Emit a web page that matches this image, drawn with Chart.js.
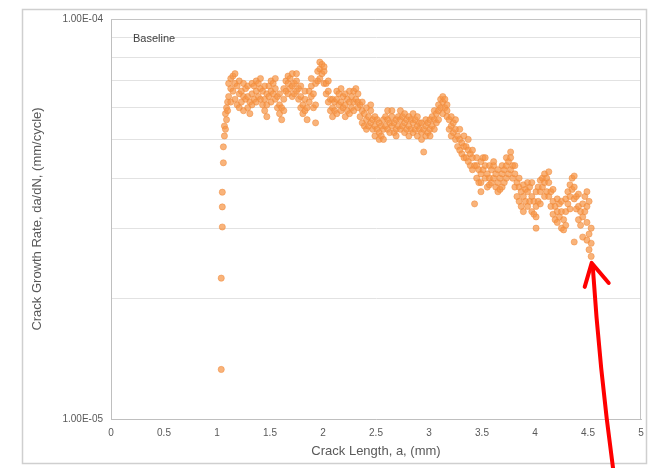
<!DOCTYPE html>
<html>
<head>
<meta charset="utf-8">
<script src="https://cdn.jsdelivr.net/npm/chart.js@4.4.1/dist/chart.umd.min.js"></script>
<style>
    html, body { margin: 0; padding: 0; background: #ffffff; }
    #wrap { width: 652px; height: 468px; }
</style>
</head>
<body>
<div id="wrap"><canvas id="crackChart" width="652" height="468"></canvas></div>
<script>
// crack length a (mm) of each column of readings
const crackLength = [
    1.04, 1.05, 1.06, 1.07, 1.08, 1.09, 1.10,
    1.11, 1.13, 1.15, 1.17, 1.19, 1.21, 1.23, 1.25, 1.27, 1.29,
    1.31, 1.33, 1.35, 1.37, 1.39, 1.41, 1.43, 1.45, 1.47, 1.49,
    1.51, 1.53, 1.55, 1.57, 1.59, 1.61, 1.63, 1.65, 1.67, 1.69,
    1.71, 1.73, 1.75, 1.77, 1.79, 1.81, 1.83, 1.85, 1.87, 1.89,
    1.91, 1.93, 1.95, 1.97, 1.99, 2.01, 2.03, 2.05, 2.07, 2.09,
    2.11, 2.13, 2.15, 2.17, 2.19, 2.21, 2.23, 2.25, 2.27, 2.29,
    2.31, 2.33, 2.35, 2.37, 2.39, 2.41, 2.43, 2.45, 2.47, 2.49,
    2.51, 2.53, 2.55, 2.57, 2.59, 2.61, 2.63, 2.65, 2.67, 2.69,
    2.71, 2.73, 2.75, 2.77, 2.79, 2.81, 2.83, 2.85, 2.87, 2.89,
    2.91, 2.93, 2.95, 2.97, 2.99, 3.01, 3.03, 3.05, 3.07, 3.09,
    3.11, 3.13, 3.15, 3.17, 3.19, 3.21, 3.23, 3.25, 3.27, 3.29,
    3.31, 3.33, 3.35, 3.37, 3.39, 3.41, 3.43, 3.45, 3.47, 3.49,
    3.51, 3.53, 3.55, 3.57, 3.59, 3.61, 3.63, 3.65, 3.67, 3.69,
    3.71, 3.73, 3.75, 3.77, 3.79, 3.81, 3.83, 3.85, 3.87, 3.89,
    3.91, 3.93, 3.95, 3.97, 3.99, 4.01, 4.03, 4.05, 4.07, 4.09,
    4.11, 4.13, 4.15, 4.17, 4.19, 4.21, 4.23, 4.25, 4.27, 4.29,
    4.31, 4.33, 4.35, 4.37, 4.39, 4.41, 4.43, 4.45, 4.47, 4.49,
    4.51, 4.53
];

// da/dN readings at each crack length, in units of 1e-5 mm/cycle
const growthRate = [
    [1.33, 2.25], [3.02, 3.39, 3.69], [4.37, 4.79], [5.1, 5.4], [5.3, 5.8], [5.6, 6.0], [6.2, 5.9],
    [6.4, 6.9], [6.7, 7.1, 6.2], [7.2, 6.6], [7.3, 6.9, 6.3], [6.8, 6.1], [6.5, 7.0, 6.0], [6.6, 6.2], [6.9, 6.4, 5.9], [6.7, 6.3], [6.4, 6.0, 6.8],
    [6.2, 5.8], [6.5, 6.9, 6.1], [6.8, 6.3], [7.0, 6.6, 6.2], [6.9, 6.4], [6.7, 7.1, 6.3], [6.6, 6.1], [6.3, 6.8, 5.9], [6.1, 5.7, 6.5], [6.4, 6.8],
    [6.6, 6.2, 7.0], [6.9, 6.5], [6.7, 6.3, 7.1], [6.4, 6.0], [6.1, 5.8, 6.5], [5.6, 6.0], [6.3, 6.7, 5.9], [6.6, 7.0], [6.9, 7.2, 6.5], [7.1, 6.7],
    [7.3, 6.8, 6.4], [6.9, 6.5], [7.0, 6.6, 7.3], [6.7, 6.3], [6.4, 6.0, 6.8], [6.1, 5.8], [6.3, 5.9, 6.6], [6.0, 5.6], [6.2, 6.6], [6.8, 6.4, 7.1],
    [6.5, 6.0], [5.5, 6.1, 6.9], [7.4, 7.0], [7.8, 7.5, 7.1], [7.7, 7.3], [7.4, 6.9, 7.6], [6.9, 6.5], [6.6, 6.2, 7.0], [6.3, 5.9], [6.0, 5.7, 6.3],
    [5.9, 6.2], [6.3, 5.8, 6.6], [6.5, 6.1], [6.7, 6.2, 5.9], [6.4, 6.0], [6.1, 5.7, 6.5], [5.9, 6.3], [6.2, 5.8, 6.6], [6.4, 6.0], [6.6, 6.2, 5.9],
    [6.7, 6.3], [6.5, 6.0, 6.2], [6.1, 5.7], [5.9, 5.5, 6.2], [5.8, 5.4], [5.6, 6.0, 5.3], [5.7, 5.4], [5.9, 5.5, 6.1], [5.6, 5.3], [5.4, 5.1, 5.7],
    [5.3, 5.6], [5.2, 5.5, 5.0], [5.1, 5.4], [5.0, 5.3, 5.6], [5.4, 5.7], [5.6, 5.3, 5.9], [5.5, 5.2], [5.7, 5.4, 5.9], [5.5, 5.2], [5.3, 5.6, 5.1],
    [5.4, 5.7], [5.6, 5.3, 5.9], [5.7, 5.4], [5.5, 5.2, 5.8], [5.3, 5.6], [5.4, 5.1, 5.7], [5.6, 5.3], [5.8, 5.5, 5.2], [5.6, 5.3], [5.4, 5.1, 5.7],
    [5.3, 5.5], [5.2, 5.5, 5.0], [4.65, 5.3], [5.4, 5.1, 5.6], [5.5, 5.2], [5.3, 5.6, 5.1], [5.4, 5.7], [5.6, 5.3, 5.9], [5.8, 5.5], [5.9, 6.1, 5.6],
    [6.0, 6.3], [6.2, 5.8, 6.4], [6.3, 6.0], [6.1, 5.7, 5.9], [5.6, 5.3], [5.4, 5.1, 5.7], [5.2, 5.5], [5.3, 5.0, 5.6], [5.1, 4.8], [5.0, 4.7, 5.3],
    [4.9, 4.6], [4.8, 4.5, 5.1], [4.8, 4.5], [4.7, 4.4, 5.0], [4.6, 4.3], [4.5, 4.2, 4.7], [4.3, 3.45], [4.3, 4.0, 4.5], [4.2, 3.9], [4.1, 4.4, 3.9, 3.7],
    [4.2, 4.5], [4.3, 4.0, 4.5], [4.1, 3.8], [4.0, 4.3, 3.85], [4.2, 3.9], [4.3, 4.0, 4.4], [4.1, 3.8], [3.9, 4.2, 3.7], [4.0, 3.75], [4.1, 3.8, 4.3],
    [4.2, 3.9], [4.3, 4.0, 4.5], [4.4, 4.1], [4.5, 4.2, 4.65], [4.3, 4.0], [4.1, 3.8, 4.3], [3.9, 3.6], [3.8, 3.5, 4.0], [3.7, 3.4], [3.6, 3.3, 3.85],
    [3.5, 3.75], [3.7, 3.4, 3.9], [3.8, 3.5], [3.6, 3.3, 3.9], [3.5, 3.25], [3.4, 3.7, 3.2, 3.0], [3.5, 3.8], [3.7, 3.45, 3.95], [3.8, 4.0], [3.9, 3.6, 4.1],
    [4.0, 3.7], [3.9, 4.15, 3.6], [3.7, 3.4], [3.5, 3.25, 3.75], [3.4, 3.15], [3.3, 3.55, 3.1], [3.2, 3.45], [3.3, 3.0, 3.5], [3.15, 2.97], [3.3, 3.05, 3.55],
    [3.45, 3.7], [3.6, 3.35, 3.85], [3.75, 4.0], [3.8, 3.55, 4.05, 2.77], [3.6, 3.35], [3.4, 3.15, 3.65], [3.3, 3.05], [3.45, 3.2, 2.85], [3.3, 3.6], [3.1, 2.8, 3.4, 3.7],
    [2.9, 2.65, 3.5], [2.55, 2.75, 3.0]
];

const seriesLabel = 'Baseline';
const xTitle = 'Crack Length, a, (mm)';
const yTitle = 'Crack Growth Rate, da/dN, (mm/cycle)';
const xRange = [0, 5];
const xStep = 0.5;
const yRange = [1e-5, 1e-4];
// log-scale grid lines, one per 1e-5 step of the decade
const yGridValues = [1e-5, 2e-5, 3e-5, 4e-5, 5e-5, 6e-5, 7e-5, 8e-5, 9e-5, 1e-4];
// last reading the red arrow points at
const arrowTarget = { x: 4.535, y: 2.47e-5 };

const textColor = '#595959';
const fontFamily = '"Liberation Sans", Arial, sans-serif';

function sciLabel(value) {
    const exp = Math.log10(value);
    if (Math.abs(exp - Math.round(exp)) > 1e-9) return '';
    return value.toExponential(2).toUpperCase().replace(/E([+-])(\d)$/, (m, sign, d) => 'E' + sign + '0' + d);
}

// outer frame, plot border and the text box
const framePlugin = {
    id: 'frame',
    beforeDraw(chart) {
        const c = chart.ctx;
        c.save();
        c.fillStyle = '#ffffff';
        c.fillRect(0, 0, chart.width, chart.height);
        c.strokeStyle = '#cfcfcf';
        c.lineWidth = 1.5;
        c.strokeRect(22.5, 9.5, 624, 454);
        c.restore();
    },
    beforeDatasetsDraw(chart) {
        const a = chart.chartArea;
        const c = chart.ctx;
        c.save();
        c.strokeStyle = '#c4c4c4';
        c.lineWidth = 1;
        c.beginPath();
        c.moveTo(a.left, a.top + 0.5);
        c.lineTo(a.right - 0.5, a.top + 0.5);
        c.lineTo(a.right - 0.5, a.bottom);
        c.stroke();
        c.fillStyle = '#404040';
        c.font = '11px ' + fontFamily;
        c.textBaseline = 'middle';
        c.fillText(seriesLabel, a.left + 22, a.top + 20);
        c.restore();
    }
};

// red call-out arrow pointing at the final reading
const arrowPlugin = {
    id: 'arrow',
    afterDraw(chart) {
        const tx = chart.scales.x.getPixelForValue(arrowTarget.x);
        const ty = chart.scales.y.getPixelForValue(arrowTarget.y);
        const c = chart.ctx;
        c.save();
        c.strokeStyle = '#ff0000';
        c.lineWidth = 4;
        c.lineCap = 'round';
        c.lineJoin = 'round';
        c.beginPath();
        c.moveTo(tx + 1, ty + 4);
        c.quadraticCurveTo(tx + 8, ty + 110, tx + 22, chart.height + 5);
        c.stroke();
        c.beginPath();
        c.moveTo(tx - 7, ty + 25);
        c.lineTo(tx, ty + 1);
        c.lineTo(tx + 17, ty + 21);
        c.stroke();
        c.restore();
    }
};

function renderCrackChart(canvasId) {
    const canvas = document.getElementById(canvasId);
    if (!canvas) return;
    const ctx = canvas.getContext('2d');

    const points = [];
    crackLength.forEach((a, i) => {
        growthRate[i].forEach(r => points.push({ x: a, y: r * 1e-5 }));
    });

    new Chart(ctx, {
        type: 'scatter',
        data: {
            datasets: [{
                label: seriesLabel,
                data: points,
                pointRadius: 3.1,
                pointBorderWidth: 0.6,
                backgroundColor: 'rgba(247, 150, 70, 0.72)', // orange
                borderColor: 'rgba(238, 135, 55, 0.8)'
            }]
        },
        options: {
            responsive: false,
            animation: false,
            events: [],
            layout: { padding: { left: 26, right: 11, top: 19, bottom: 8 } },
            plugins: {
                legend: { display: false },
                tooltip: { enabled: false }
            },
            scales: {
                x: {
                    type: 'linear',
                    min: xRange[0],
                    max: xRange[1],
                    afterFit: (scale) => { scale.height = 41; },
                    ticks: {
                        stepSize: xStep,
                        padding: 8,
                        color: textColor,
                        font: { family: fontFamily, size: 10 },
                        callback: (value) => String(Math.round(value * 10) / 10)
                    },
                    grid: { drawOnChartArea: false, drawTicks: false },
                    border: { color: '#bfbfbf' },
                    title: {
                        display: true,
                        text: xTitle,
                        color: textColor,
                        padding: { top: 0, bottom: 1 },
                        font: { family: fontFamily, size: 13 }
                    }
                },
                y: {
                    type: 'logarithmic',
                    min: yRange[0],
                    max: yRange[1],
                    afterFit: (scale) => { scale.width = 85; },
                    afterBuildTicks: (scale) => {
                        scale.ticks = yGridValues.map(v => ({ value: v }));
                    },
                    ticks: {
                        autoSkip: false,
                        padding: 8,
                        color: textColor,
                        font: { family: fontFamily, size: 10 },
                        callback: (value) => sciLabel(value)
                    },
                    grid: { color: '#e2e2e2', drawTicks: false },
                    border: { color: '#bfbfbf' },
                    title: {
                        display: true,
                        text: yTitle,
                        color: textColor,
                        padding: { top: 4, bottom: 0 },
                        font: { family: fontFamily, size: 13 }
                    }
                }
            }
        },
        plugins: [framePlugin, arrowPlugin]
    });
}

renderCrackChart('crackChart');
</script>
</body>
</html>
